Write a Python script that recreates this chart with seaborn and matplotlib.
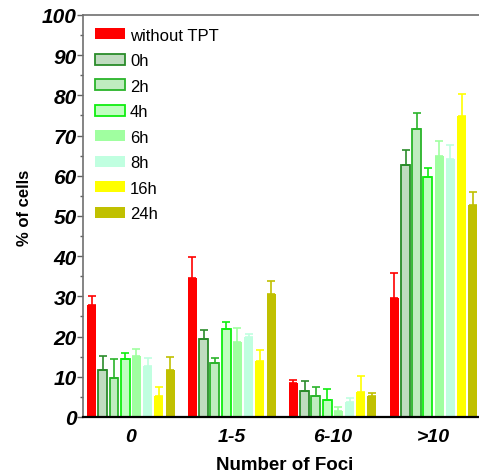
import matplotlib
matplotlib.use("Agg")
import matplotlib.pyplot as plt
from matplotlib.patches import Patch
from matplotlib.ticker import MultipleLocator
import seaborn as sns
import pandas as pd
import numpy as np

# ---- data ----
groups = ["0", "1-5", "6-10", ">10"]
series = ["without TPT", "0h", "2h", "4h", "6h", "8h", "16h", "24h"]
without_tpt = [27.9, 34.6, 8.5, 29.5]
h0 = [11.7, 19.5, 6.4, 62.6]
h2 = [9.7, 13.4, 5.2, 71.7]
h4 = [14.5, 21.8, 4.2, 59.6]
h6 = [15.1, 18.7, 1.5, 64.9]
h8 = [12.7, 19.9, 3.8, 64.2]
h16 = [5.3, 13.9, 6.2, 74.8]
h24 = [11.8, 30.7, 5.2, 52.7]
# upper error (size of error bar)
err_without = [2.2, 5.3, 0.8, 6.4]
err_h0 = [3.4, 2.1, 2.5, 3.9]
err_h2 = [4.8, 1.2, 2.2, 3.9]
err_h4 = [1.5, 1.8, 2.7, 2.3]
err_h6 = [1.8, 3.4, 0.9, 3.7]
err_h8 = [2.0, 0.7, 0.8, 3.4]
err_h16 = [2.2, 2.8, 4.1, 5.5]
err_h24 = [3.2, 3.1, 0.7, 3.3]

all_vals = [without_tpt, h0, h2, h4, h6, h8, h16, h24]
all_errs = [err_without, err_h0, err_h2, err_h4, err_h6, err_h8, err_h16, err_h24]

fills = ["#ff0000", "#c0dcc0", "#c0ecc0", "#c0ffc0", "#a0ffa0", "#c0ffe0", "#ffff00", "#c0c000"]
edges = ["#ff0000", "#2a8c2a", "#2ab42a", "#10ee10", "#a0ffa0", "#c0ffe0", "#ffff00", "#c0c000"]
outlined = [False, True, True, True, False, False, False, False]

df = pd.DataFrame(
    [{"Number of Foci": g, "series": s, "value": v}
     for s, vals in zip(series, all_vals) for g, v in zip(groups, vals)]
)

sns.set_style("ticks")
plt.rcParams["font.family"] = ["Liberation Sans", "DejaVu Sans"]

fig = plt.figure(figsize=(4.79, 4.77), dpi=100)
ax = fig.add_axes([0.1733, 0.1237, 0.8267, 0.843])

sns.barplot(data=df, x="Number of Foci", y="value", hue="series",
            order=groups, hue_order=series, palette=fills,
            width=0.89, gap=0.2, errorbar=None, legend=False,
            saturation=1, ax=ax)

bar_containers = list(ax.containers)
for i, cont in enumerate(bar_containers):
    xs, ys = [], []
    for p in cont.patches:
        if outlined[i]:
            p.set_edgecolor(edges[i])
            p.set_linewidth(1.3)
        else:
            p.set_edgecolor("none")
            p.set_linewidth(0)
        xs.append(p.get_x() + p.get_width() / 2)
        ys.append(p.get_height())
    errs = all_errs[i]
    ax.errorbar(xs, ys, yerr=[np.zeros(len(errs)), errs], fmt="none",
                ecolor=edges[i], elinewidth=1.4, capsize=3, capthick=1.4,
                alpha=0.85, zorder=1)

ax.set_xlim(-0.474, 3.45)
ax.set_ylim(0, 100)
ax.yaxis.set_major_locator(MultipleLocator(10))
ax.yaxis.set_minor_locator(MultipleLocator(5))
ax.tick_params(axis="y", which="major", length=4, width=1, color="#606060",
               pad=0.5, labelsize=15, labelcolor="black")
ax.tick_params(axis="y", which="minor", length=2.5, width=1, color="#606060")
ax.tick_params(axis="x", length=0, pad=8, labelsize=14, labelcolor="black")
for lab in ax.get_yticklabels() + ax.get_xticklabels():
    lab.set_fontweight("bold")
    lab.set_fontstyle("italic")

ax.set_ylabel("% of cells", fontsize=12, fontweight="bold", color="black")
ax.set_xlabel("Number of Foci", fontsize=13.5, fontweight="bold", color="black")
ax.yaxis.set_label_coords(-0.128, 0.522)
ax.xaxis.set_label_coords(0.51, -0.098)

for side in ["left", "top"]:
    ax.spines[side].set_color("#707070")
    ax.spines[side].set_linewidth(1.2)
ax.spines["bottom"].set_color("black")
ax.spines["bottom"].set_linewidth(1.6)
ax.spines["right"].set_visible(False)

handles = [Patch(facecolor=f, edgecolor=(e if o else f), linewidth=(1.3 if o else 0))
           for f, e, o in zip(fills, edges, outlined)]
leg = ax.legend(handles, series, loc="upper left", bbox_to_anchor=(0.03, 0.968),
                frameon=False, fontsize=12, handlelength=1.8, handleheight=0.65,
                handletextpad=0.3, labelspacing=0.63, borderpad=0, borderaxespad=0)
for t in leg.get_texts():
    t.set_color("black")

fig.savefig("out.png", dpi=100)
